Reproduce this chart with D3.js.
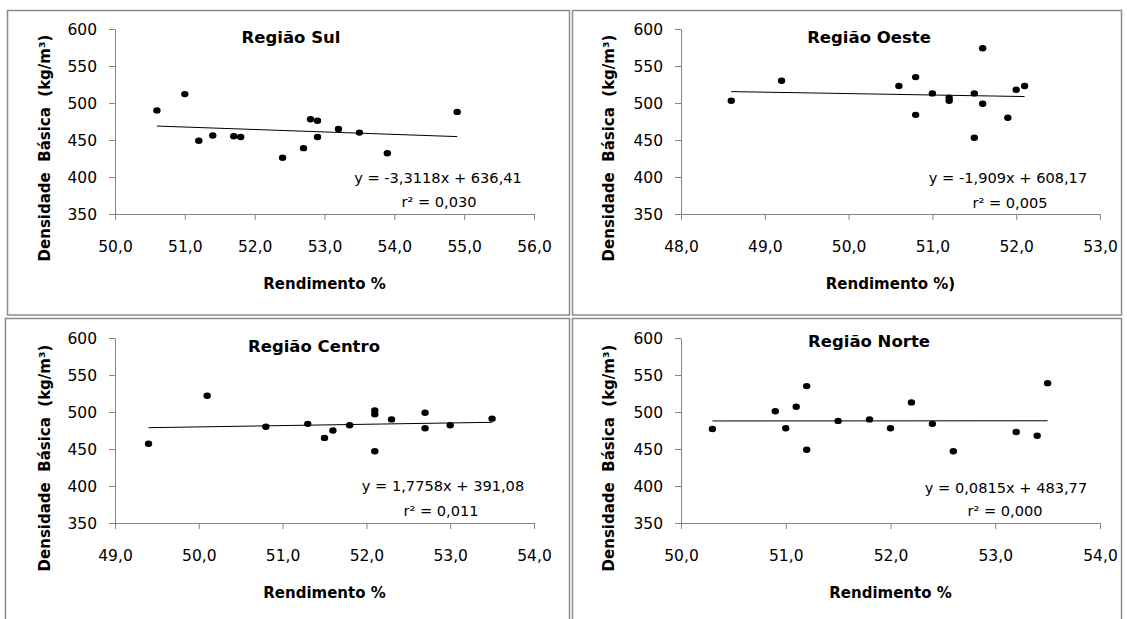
<!DOCTYPE html>
<html>
<head>
<meta charset="utf-8">
<script src="https://cdn.jsdelivr.net/npm/d3@7"></script>
<style>
  body { margin: 0; background: #fff; }
  text { font-family: "DejaVu Sans", sans-serif; fill: #000; }
  .tick line, .domain { stroke: #868686; }
  .tick text { font-size: 15.5px; }
</style>
</head>
<body>
<script>
// dados (Rendimento %, Densidade básica kg/m3)
var sulX = [50.6, 51.0, 51.2, 51.4, 51.7, 51.8, 52.4, 52.7, 52.8, 52.9, 52.9, 53.2, 53.5, 53.9, 54.9];
var sulY = [490, 512, 449, 456, 455, 454, 426, 439, 478, 476, 454, 465, 460, 432, 488];

var oesteX = [48.6, 49.2, 50.6, 50.8, 50.8, 51.0, 51.2, 51.2, 51.5, 51.5, 51.6, 51.6, 51.9, 52.0, 52.1];
var oesteY = [503, 530, 523, 535, 484, 513, 507, 503, 513, 453, 574, 499, 480, 518, 523];

var centroX = [49.4, 50.1, 50.8, 51.3, 51.5, 51.6, 51.8, 52.1, 52.1, 52.1, 52.3, 52.7, 52.7, 53.0, 53.5];
var centroY = [457, 522, 480, 484, 465, 475, 482, 502, 497, 447, 490, 499, 478, 482, 491];

var norteX = [50.3, 50.9, 51.0, 51.1, 51.2, 51.2, 51.5, 51.8, 52.0, 52.2, 52.4, 52.6, 53.2, 53.4, 53.5];
var norteY = [477, 501, 478, 507, 535, 449, 488, 490, 478, 513, 484, 447, 473, 468, 539];

var titles    = ["Região Sul", "Região Oeste", "Região Centro", "Região Norte"];
var xLabels   = ["Rendimento %", "Rendimento %)", "Rendimento %", "Rendimento %"];
var xDomains  = [[50, 56], [48, 53], [49, 54], [50, 54]];
var yTicks    = [350, 400, 450, 500, 550, 600];
var slopes     = [-3.3118, -1.909, 1.7758, 0.0815];
var intercepts = [636.41, 608.17, 391.08, 483.77];
var equations = ["y = -3,3118x + 636,41", "y = -1,909x + 608,17", "y = 1,7758x + 391,08", "y = 0,0815x + 483,77"];
var r2Labels  = ["r² = 0,030", "r² = 0,005", "r² = 0,011", "r² = 0,000"];

var seriesX = [sulX, oesteX, centroX, norteX];
var seriesY = [sulY, oesteY, centroY, norteY];

var width  = 1127;
var height = 619;

var svg = d3.select("body")
            .append("svg")
            .attr("width", width)
            .attr("height", height);

// caixas dos quatro gráficos
var boxes = [
  {x: 7.5,   y: 10.5,  w: 562, h: 304.5},
  {x: 572.5, y: 10.5,  w: 549, h: 304.5},
  {x: 5.5,   y: 318.5, w: 564, h: 310},
  {x: 572.5, y: 318.5, w: 549, h: 310}
];

// posição de cada área de plotagem e dos textos
var panels = [
  {left: 115, right: 534,  top: 29,  bottom: 214, titleX: 291, titleY: 43,  eqX: 438,  eqY: 183, r2X: 439,  r2Y: 207, yLabX: 45,  yLabY: 148},
  {left: 681, right: 1100, top: 29,  bottom: 214, titleX: 869, titleY: 43,  eqX: 1008, eqY: 183, r2X: 1010, r2Y: 208, yLabX: 609, yLabY: 148},
  {left: 115, right: 534,  top: 338, bottom: 523, titleX: 314, titleY: 352, eqX: 443,  eqY: 491, r2X: 441,  r2Y: 516, yLabX: 45,  yLabY: 458},
  {left: 681, right: 1100, top: 338, bottom: 523, titleX: 869, titleY: 347, eqX: 1006, eqY: 493, r2X: 1005, r2Y: 516, yLabX: 609, yLabY: 458}
];

var ptBR = d3.formatLocale({decimal: ",", thousands: ".", grouping: [3], currency: ["R$", ""]});
var fmtX = ptBR.format(".1f");

boxes.forEach(function(b) {
  svg.append("rect")
     .attr("x", b.x).attr("y", b.y)
     .attr("width", b.w).attr("height", b.h)
     .attr("fill", "none")
     .attr("stroke", "#8c8c8c")
     .attr("stroke-width", 1.5);
});

panels.forEach(function(p, i) {
  var x = d3.scaleLinear().domain(xDomains[i]).range([p.left, p.right]);
  var y = d3.scaleLinear().domain([350, 600]).range([p.bottom, p.top]);

  var g = svg.append("g");

  g.append("g")
   .attr("transform", "translate(0," + p.bottom + ")")
   .call(d3.axisBottom(x)
           .tickValues(d3.range(xDomains[i][0], xDomains[i][1] + 0.5, 1))
           .tickFormat(fmtX)
           .tickSize(6).tickSizeOuter(0).tickPadding(21));

  g.append("g")
   .attr("transform", "translate(" + p.left + ",0)")
   .call(d3.axisLeft(y)
           .tickValues(yTicks)
           .tickSize(6).tickSizeOuter(0).tickPadding(12))
   .selectAll("text")
   .attr("dy", "0.36em");

  g.selectAll(".tick text").style("font-size", "15.5px");

  // linha de tendência
  var xs = seriesX[i];
  var x0 = d3.min(xs), x1 = d3.max(xs);
  g.append("line")
   .attr("x1", x(x0)).attr("y1", y(slopes[i] * x0 + intercepts[i]))
   .attr("x2", x(x1)).attr("y2", y(slopes[i] * x1 + intercepts[i]))
   .attr("stroke", "#000")
   .attr("stroke-width", 1);

  g.selectAll(".pt")
   .data(xs.map(function(d, j) { return {x: d, y: seriesY[i][j]}; }))
   .enter().append("ellipse")
           .attr("class", "pt")
           .attr("cx", function(d) { return x(d.x); })
           .attr("cy", function(d) { return y(d.y); })
           .attr("rx", 3.7)
           .attr("ry", 3.2)
           .attr("fill", "#000");

  g.append("text")
   .attr("x", p.titleX).attr("y", p.titleY)
   .attr("text-anchor", "middle")
   .style("font-size", "16.5px")
   .style("font-weight", "bold")
   .text(titles[i]);

  g.append("text")
   .attr("x", p.eqX).attr("y", p.eqY)
   .attr("text-anchor", "middle")
   .style("font-size", "14.6px")
   .text(equations[i]);

  g.append("text")
   .attr("x", p.r2X).attr("y", p.r2Y)
   .attr("text-anchor", "middle")
   .style("font-size", "14.6px")
   .text(r2Labels[i]);

  g.append("text")
   .attr("x", (p.left + p.right) / 2)
   .attr("y", p.bottom + 75)
   .attr("text-anchor", "middle")
   .style("font-size", "15px")
   .style("font-weight", "bold")
   .text(xLabels[i]);

  g.append("text")
   .attr("transform", "translate(" + p.yLabX + "," + p.yLabY + ") rotate(-90)")
   .attr("dy", "0.36em")
   .attr("text-anchor", "middle")
   .style("font-size", "15px")
   .style("font-weight", "bold")
   .style("white-space", "pre")
   .text("Densidade  Básica  (kg/m³)");
});
</script>
</body>
</html>
